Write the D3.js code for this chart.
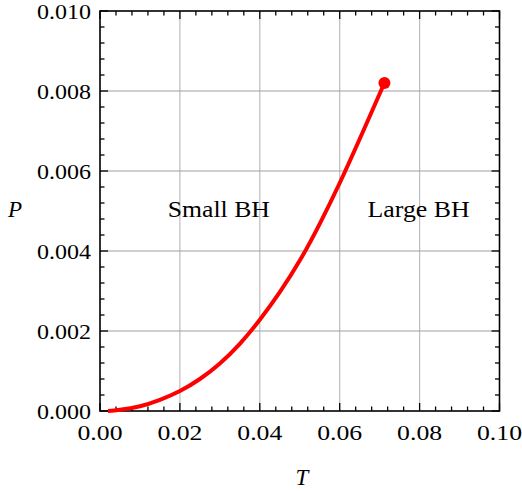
<!DOCTYPE html>
<html>
<head>
<meta charset="utf-8">
<script src="https://cdn.jsdelivr.net/npm/d3@7"></script>
<style>
  html, body { margin: 0; padding: 0; background: #fff; }
  svg { display: block; }
  text { font-family: "Liberation Serif", "DejaVu Serif", serif; fill: #000; }
</style>
</head>
<body>
<svg id="chart" width="522" height="491"></svg>
<script>
// Data
const temperatures = [0.002, 0.005, 0.01, 0.015, 0.02, 0.025, 0.03, 0.035, 0.04, 0.045, 0.05, 0.055, 0.06, 0.065, 0.07, 0.0712];
const pressures    = [0.0, 0.00003, 0.00012, 0.00028, 0.00050, 0.00080, 0.00119, 0.00168, 0.00228, 0.00297, 0.00376, 0.00468, 0.00570, 0.00680, 0.00793, 0.00820];
const xTicks = [0.00, 0.02, 0.04, 0.06, 0.08, 0.10];
const yTicks = [0.000, 0.002, 0.004, 0.006, 0.008, 0.010];
const regionLabels = ["Small BH", "Large BH"];
const regionLabelT = [0.02975, 0.07975];
const regionLabelP = [0.00485, 0.00485];
const xLabel = "T";
const yLabel = "P";

const svg = d3.select("#chart");
const L = 100, R = 499.5, T = 11, B = 411;
const x = d3.scaleLinear().domain([0, 0.10]).range([L, R]);
const y = d3.scaleLinear().domain([0, 0.010]).range([B, T]);

// grid
const g = svg.append("g");
g.selectAll("line.vx").data(xTicks.slice(1, -1)).join("line")
  .attr("x1", d => x(d)).attr("x2", d => x(d)).attr("y1", T).attr("y2", B)
  .attr("stroke", "#bdbdbd").attr("stroke-width", 1.2);
g.selectAll("line.hy").data(yTicks.slice(1, -1)).join("line")
  .attr("y1", d => y(d)).attr("y2", d => y(d)).attr("x1", L).attr("x2", R)
  .attr("stroke", "#a0a0a0").attr("stroke-width", 1.2);

// ticks (inside, all four sides)
const xMinor = d3.range(0, 0.1001, 0.004);
const yMinor = d3.range(0, 0.01001, 0.0004);
const isMajorX = v => Math.abs(v / 0.02 - Math.round(v / 0.02)) < 1e-6;
const isMajorY = v => Math.abs(v / 0.002 - Math.round(v / 0.002)) < 1e-6;
const tk = svg.append("g").attr("stroke", "#000").attr("stroke-width", 1.3);
xMinor.forEach(v => {
  const len = isMajorX(v) ? 8 : 4.5;
  tk.append("line").attr("x1", x(v)).attr("x2", x(v)).attr("y1", B).attr("y2", B - len);
  tk.append("line").attr("x1", x(v)).attr("x2", x(v)).attr("y1", T).attr("y2", T + len);
});
yMinor.forEach(v => {
  const len = isMajorY(v) ? 8 : 4.5;
  tk.append("line").attr("y1", y(v)).attr("y2", y(v)).attr("x1", L).attr("x2", L + len);
  tk.append("line").attr("y1", y(v)).attr("y2", y(v)).attr("x1", R).attr("x2", R - len);
});

// frame
svg.append("rect").attr("x", L).attr("y", T).attr("width", R - L).attr("height", B - T)
  .attr("fill", "none").attr("stroke", "#000").attr("stroke-width", 1.6);

// tick labels
svg.append("g").selectAll("text").data(xTicks).join("text")
  .attr("x", d => x(d)).attr("y", 440)
  .attr("text-anchor", "middle").attr("font-size", 22)
  .attr("textLength", 45).attr("lengthAdjust", "spacingAndGlyphs")
  .text(d => d3.format(".2f")(d));
svg.append("g").selectAll("text").data(yTicks).join("text")
  .attr("x", 91).attr("y", d => y(d) + 7.5)
  .attr("text-anchor", "end").attr("font-size", 22)
  .attr("textLength", 54).attr("lengthAdjust", "spacingAndGlyphs")
  .text(d => d3.format(".3f")(d));

// axis labels
svg.append("text").attr("x", 302).attr("y", 485).attr("text-anchor", "middle")
  .attr("font-size", 23).attr("font-style", "italic").text(xLabel);
svg.append("text").attr("x", 15).attr("y", 217).attr("text-anchor", "middle")
  .attr("font-size", 23).attr("font-style", "italic").text(yLabel);

// region labels
svg.append("g").selectAll("text").data(regionLabels).join("text")
  .attr("x", (d, i) => x(regionLabelT[i])).attr("y", (d, i) => y(regionLabelP[i]) + 0)
  .attr("text-anchor", "middle").attr("font-size", 23.5)
  .attr("textLength", 102).attr("lengthAdjust", "spacingAndGlyphs")
  .text(d => d);

// curve
const pts = temperatures.map((t, i) => [t, pressures[i]]);
const line = d3.line().x(d => x(d[0])).y(d => y(d[1])).curve(d3.curveNatural);
svg.append("path").attr("d", line(pts)).attr("fill", "none")
  .attr("stroke", "#ff0000").attr("stroke-width", 4).attr("stroke-linecap", "butt");
const last = pts[pts.length - 1];
svg.append("circle").attr("cx", x(last[0])).attr("cy", y(last[1])).attr("r", 6).attr("fill", "#ff0000");
</script>
</body>
</html>
